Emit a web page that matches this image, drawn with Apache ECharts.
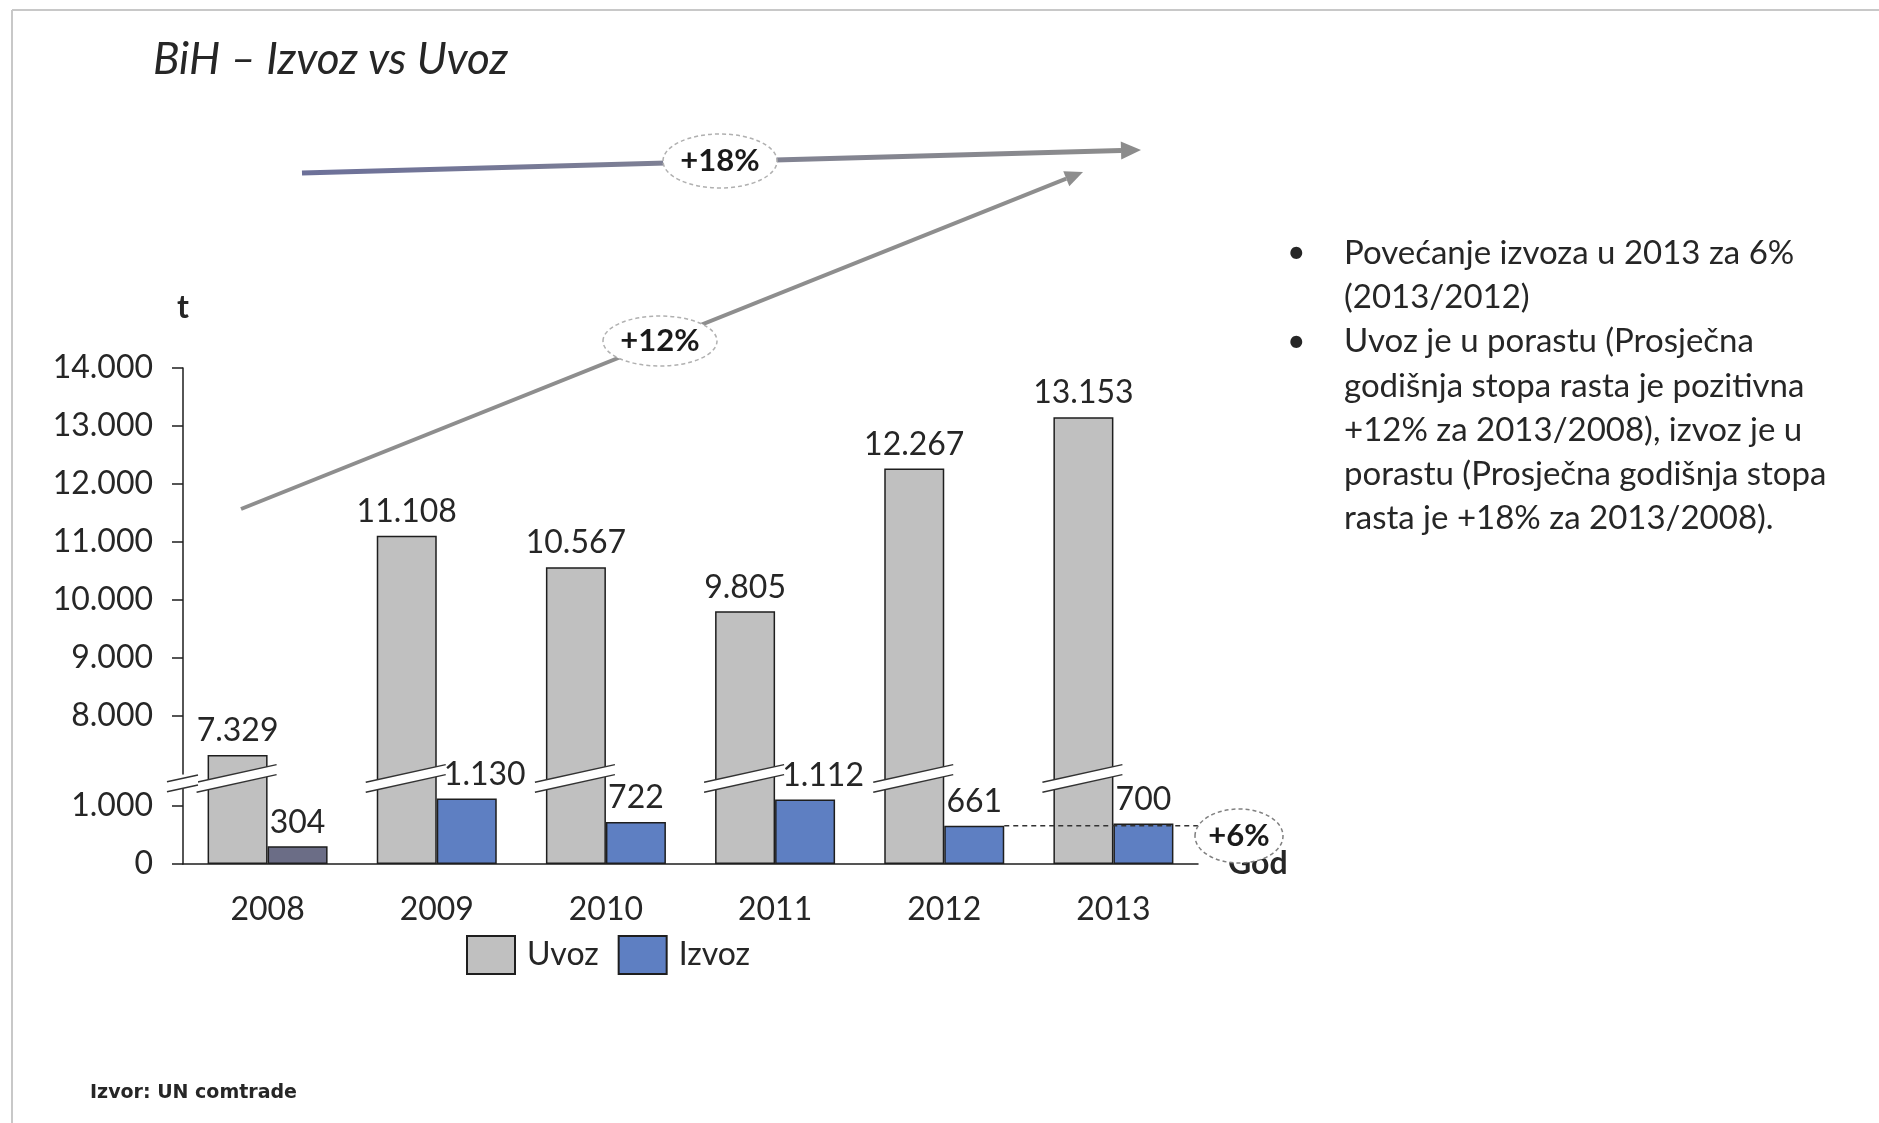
<!DOCTYPE html>
<html>
<head>
<meta charset="utf-8">
<title>BiH – Izvoz vs Uvoz</title>
<script src="https://cdn.jsdelivr.net/npm/echarts@6.0.0/dist/echarts.min.js"></script>
<style>
html, body { margin: 0; padding: 0; background: #fff; }
#izvozuvoz { width: 1879px; height: 1123px; }
</style>
</head>
<body>
<div id="izvozuvoz"></div>
<script>
// podaci (t)
var godine = ['2008', '2009', '2010', '2011', '2012', '2013'];
var uvoz = [7329, 11108, 10567, 9805, 12267, 13153];
var izvoz = [304, 1130, 722, 1112, 661, 700];
var yTicks = [0, 1000, 8000, 9000, 10000, 11000, 12000, 13000, 14000];
var prekid = [1400, 7000];

var napomene = [
    ['•', 'Povećanje izvoza u 2013 za 6%'],
    ['', '(2013/2012)'],
    ['•', 'Uvoz je u porastu (Prosječna'],
    ['', 'godišnja stopa rasta je pozitivna'],
    ['', '+12% za 2013/2008), izvoz je u'],
    ['', 'porastu (Prosječna godišnja stopa'],
    ['', 'rasta je +18% za 2013/2008).']
];

var FONT = 'Lato, "Open Sans", sans-serif';
var TXT = '#262626';
var grid = { left: 183, top: 368, width: 1015, height: 496 };
var barW = 60;

function tacke(v) {
    return String(v).replace(/\B(?=(\d{3})+(?!\d))/g, '.');
}

// kosi prekid preko stupca
function prekidMark(x1, x2, cy) {
    var h = 10, s = -0.22, mx = (x1 + x2) / 2;
    var d1 = s * (x1 - mx), d2 = s * (x2 - mx);
    return {
        type: 'group',
        children: [
            { type: 'polygon', z2: 1, shape: { points: [[x1, cy - h / 2 + d1], [x2, cy - h / 2 + d2], [x2, cy + h / 2 + d2], [x1, cy + h / 2 + d1]] }, style: { fill: '#fff' } },
            { type: 'line', z2: 1, shape: { x1: x1, y1: cy - h / 2 + d1, x2: x2, y2: cy - h / 2 + d2 }, style: { stroke: '#333', lineWidth: 1.5 } },
            { type: 'line', z2: 1, shape: { x1: x1, y1: cy + h / 2 + d1, x2: x2, y2: cy + h / 2 + d2 }, style: { stroke: '#333', lineWidth: 1.5 } }
        ]
    };
}

function strelica(x1, y1, x2, y2, width, stroke, head, headColor) {
    var ang = Math.atan2(y2 - y1, x2 - x1);
    var bx = x2 - head * Math.cos(ang), by = y2 - head * Math.sin(ang);
    var nx = -Math.sin(ang) * head * 0.45, ny = Math.cos(ang) * head * 0.45;
    return [
        { type: 'line', z: 50, shape: { x1: x1, y1: y1, x2: bx, y2: by }, style: { stroke: stroke, lineWidth: width } },
        { type: 'polygon', z: 50, shape: { points: [[x2, y2], [bx + nx, by + ny], [bx - nx, by - ny]] }, style: { fill: headColor } }
    ];
}

function oznaka(cx, cy, rx, ry, tekst, stroke) {
    return [
        { type: 'ellipse', z: 60, shape: { cx: cx, cy: cy, rx: rx, ry: ry }, style: { fill: '#fff', stroke: stroke, lineWidth: 1.5, lineDash: [4, 3] } },
        { type: 'text', z: 61, x: cx, y: cy, style: { text: tekst, font: 'bold 31px ' + FONT, fill: '#1a1a1a', textAlign: 'center', textVerticalAlign: 'middle' } }
    ];
}

var grafika = [
    { type: 'line', shape: { x1: 12, y1: 10, x2: 1879, y2: 10 }, style: { stroke: '#c8c8c8', lineWidth: 2 } },
    { type: 'line', shape: { x1: 12, y1: 10, x2: 12, y2: 1123 }, style: { stroke: '#c8c8c8', lineWidth: 2 } },
    { type: 'text', x: 153, y: 60, style: { text: 'BiH – Izvoz vs Uvoz', font: 'italic 44px ' + FONT, fill: TXT, textVerticalAlign: 'middle' } },
    { type: 'text', x: 90, y: 1093, style: { text: 'Izvor: UN comtrade', font: 'bold 19px "DejaVu Sans", sans-serif', fill: TXT, textVerticalAlign: 'middle' } }
];
napomene.forEach(function (red, i) {
    var y = 253 + i * 44.3;
    if (red[0]) {
        grafika.push({ type: 'text', x: 1287, y: y, style: { text: red[0], font: '32px ' + FONT, fill: TXT, textVerticalAlign: 'middle' } });
    }
    grafika.push({ type: 'text', x: 1344, y: y, style: { text: red[1], font: '33px ' + FONT, fill: TXT, textVerticalAlign: 'middle' } });
});
var gradijent = new echarts.graphic.LinearGradient(0, 0, 1, 0, [
    { offset: 0, color: '#6c7099' }, { offset: 0.45, color: '#7e8094' }, { offset: 1, color: '#8c8c8c' }
]);
grafika = grafika
    .concat(strelica(302, 173, 1141, 150, 5, gradijent, 20, '#8c8c8c'))
    .concat(strelica(241, 509, 1083, 172, 4, '#8e8e8e', 18, '#8e8e8e'))
    .concat(oznaka(720, 161, 57, 27, '+18%', '#b0b0b0'))
    .concat(oznaka(660, 341, 57, 25, '+12%', '#b0b0b0'))
    .concat(oznaka(1239, 836, 44, 27, '+6%', '#808080'));

var chart = echarts.init(document.getElementById('izvozuvoz'));
var band = grid.width / godine.length;

var option = {
    backgroundColor: '#fff',
    animation: false,
    textStyle: { fontFamily: FONT, color: TXT },
    grid: { left: grid.left, top: grid.top, width: grid.width, height: grid.height, outerBoundsMode: 'none' },
    legend: {
        data: ['Uvoz', 'Izvoz'],
        left: 461, top: 930,
        itemWidth: 48, itemHeight: 38, itemGap: 19,
        icon: 'rect',
        textStyle: { fontSize: 32, color: TXT, fontFamily: FONT, padding: [0, 0, 0, 7] }
    },
    xAxis: [{
        type: 'category',
        data: godine,
        name: 'God',
        nameLocation: 'end',
        nameGap: 30,
        nameTextStyle: { fontSize: 32, fontWeight: 'bold', color: TXT, verticalAlign: 'middle', align: 'left' },
        axisLine: { lineStyle: { color: '#1e1e1e', width: 1.5 } },
        axisTick: { show: false },
        axisLabel: { fontSize: 32, color: TXT, margin: 30 }
    }, {
        type: 'value', min: 0, max: godine.length, show: false
    }],
    yAxis: {
        type: 'value',
        min: 0, max: 14000, interval: 1000,
        breaks: [{ start: prekid[0], end: prekid[1], gap: 150 }],
        breakArea: { show: false },
        name: 't',
        nameLocation: 'end',
        nameGap: 44,
        nameTextStyle: { fontSize: 32, fontWeight: 'bold', color: TXT, align: 'center' },
        axisLine: { show: true, lineStyle: { color: '#1e1e1e', width: 1.5 } },
        axisTick: { show: true, length: 11, lineStyle: { color: '#1e1e1e', width: 1.5 }, customValues: yTicks },
        splitLine: { show: false },
        axisLabel: {
            fontSize: 32, color: TXT, margin: 30,
            customValues: yTicks,
            formatter: function (v) { return yTicks.indexOf(v) < 0 ? '' : tacke(v); }
        }
    },
    series: [{
        name: 'Uvoz',
        type: 'bar',
        z: 2,
        data: uvoz,
        barWidth: barW,
        barGap: '0%',
        itemStyle: { color: '#c0c0c0', borderColor: '#1e1e1e', borderWidth: 1.5 },
        label: { show: true, position: 'top', distance: 8, fontSize: 32, color: TXT, formatter: function (p) { return tacke(p.value); } }
    }, {
        name: 'Izvoz',
        type: 'bar',
        z: 2,
        data: izvoz.map(function (v, i) {
            var d = { value: v };
            if (i === 0) d.itemStyle = { color: '#6b6d86' };
            // oznake koje bi udarile u prekid malo udesno
            if (v >= 1000) d.label = { offset: [18, 0] };
            return d;
        }),
        barWidth: barW,
        itemStyle: { color: '#5e7fc2', borderColor: '#1e1e1e', borderWidth: 1.5 },
        label: { show: true, position: 'top', distance: 8, fontSize: 32, color: TXT, formatter: function (p) { return tacke(p.value); } }
    }, {
        name: 'prekid',
        type: 'custom',
        silent: true,
        z: 2,
        data: godine.map(function (g, i) { return [i]; }),
        renderItem: function (params, api) {
            var i = api.value(0);
            var a = api.coord([i, prekid[0]]);
            var b = api.coord([i, prekid[1]]);
            var cy = (a[1] + b[1]) / 2;
            var cx = a[0];
            var w = api.size([1, 0])[0];
            var ch = [prekidMark(cx - barW - 11, cx + 9, cy)];
            if (i === 0) {
                ch.push(prekidMark(cx - w / 2 - 16, cx - w / 2 + 15, cy + 5));
            }
            return { type: 'group', children: ch };
        }
    }, {
        name: 'rast',
        type: 'line',
        xAxisIndex: 1,
        silent: true,
        z: 4,
        symbol: 'none',
        lineStyle: { color: '#333', width: 1.5, type: [5, 4] },
        data: [[4.5 + barW / band, izvoz[4]], [godine.length, izvoz[4]]]
    }],
    graphic: grafika
};

chart.setOption(option);
window.addEventListener('resize', chart.resize);
</script>
</body>
</html>
